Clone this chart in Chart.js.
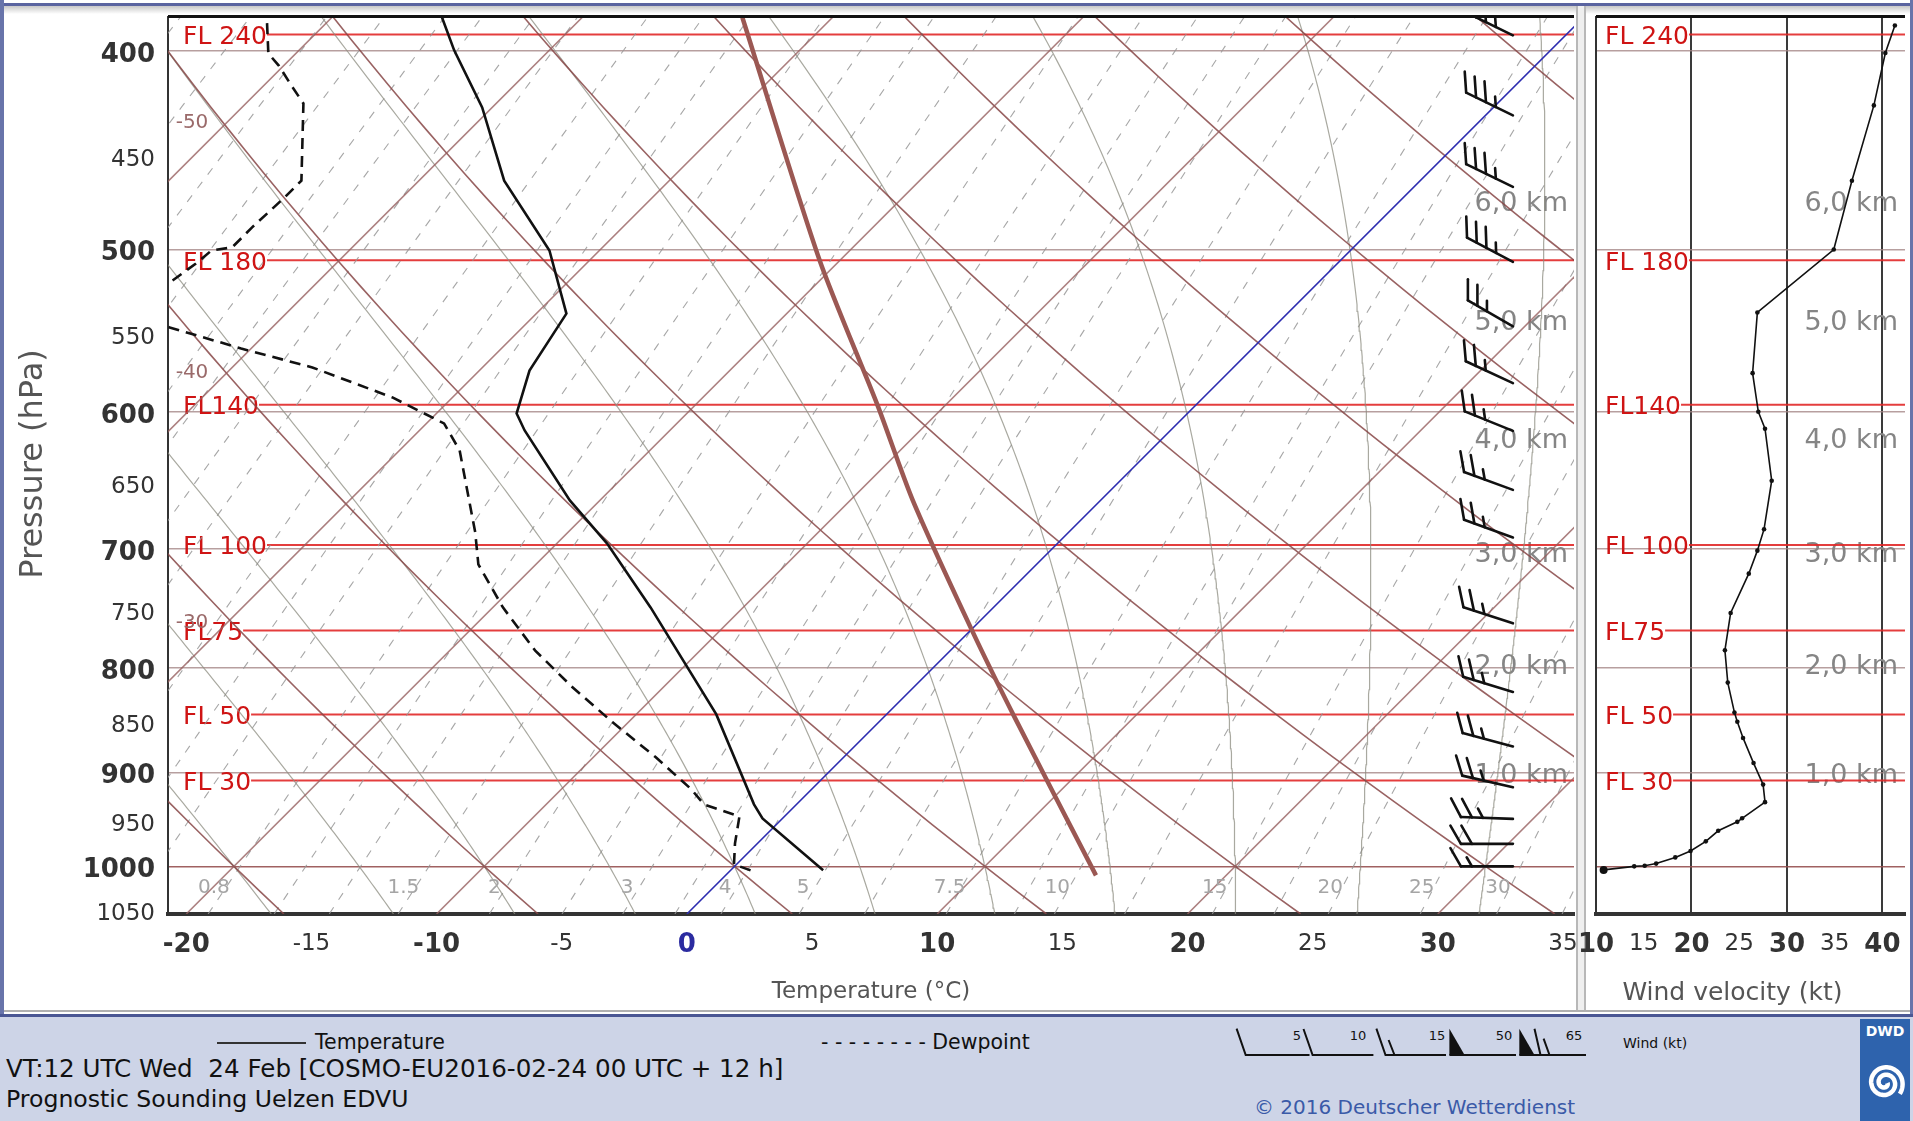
<!DOCTYPE html>
<html>
<head>
<meta charset="utf-8">
<title>Prognostic Sounding Uelzen EDVU</title>
<script src="https://cdn.jsdelivr.net/npm/chart.js@4.4.1/dist/chart.umd.min.js"></script>
<style>
  html, body { margin: 0; padding: 0; background: #fff; }
  #page { position: relative; width: 1913px; height: 1121px; overflow: hidden; background: #fff; font-family: "DejaVu Sans", sans-serif; }
  canvas { position: absolute; top: 0; z-index: 2; }
  #skewCanvas { left: 0; }
  #windCanvas { left: 1566px; }
  .bar { position: absolute; z-index: 1; }
  .top { z-index: 3; }
  #footer { position: absolute; left: 0; top: 1014px; width: 1913px; height: 107px; background: #cdd4e7; border-top: 3px solid #4a5794; box-sizing: border-box; z-index: 3; }
  .ftxt { position: absolute; white-space: pre; color: #111; line-height: 1; }
</style>
</head>
<body>
<div id="page">
  <canvas id="skewCanvas" width="1588" height="1012"></canvas>
  <canvas id="windCanvas" width="347" height="1012"></canvas>
  <div class="bar top" style="left:0;top:3px;width:1913px;height:3px;background:#5a64a0"></div>
  <div class="bar" style="left:0;top:6px;width:1913px;height:8px;background:linear-gradient(#c8c8c8,#fff)"></div>
  <div class="bar" style="left:1576px;top:6px;width:6px;height:1006px;border-left:2px solid #b8b8b8;border-right:2px solid #b8b8b8;background:#efefef"></div>
  <div class="bar" style="left:0;top:1010px;width:1913px;height:2px;background:#b0b0b0"></div>
  <div class="bar top" style="left:0;top:0;width:4px;height:1121px;background:#6874aa"></div>
  <div class="bar top" style="left:1910px;top:0;width:3px;height:1121px;background:#6874aa"></div>
  <div id="footer">
    <div class="bar" style="left:217px;top:25px;width:89px;height:2px;background:#333"></div>
    <div class="ftxt" style="left:315px;top:15px;font-size:20.5px">Temperature</div>
    <div class="ftxt" style="left:821px;top:15px;font-size:20.5px">- - - - - - - - Dewpoint</div>
    <div class="ftxt" style="left:6px;top:40px;font-size:24.6px">VT:12 UTC Wed  24 Feb [COSMO-EU2016-02-24 00 UTC + 12 h]</div>
    <div class="ftxt" style="left:6px;top:71px;font-size:23.6px">Prognostic Sounding Uelzen EDVU</div>
    <div class="ftxt" style="left:1254px;top:80px;font-size:20px;color:#3a5aa8">© 2016 Deutscher Wetterdienst</div>
    <div class="ftxt" style="left:1623px;top:19px;font-size:14px">Wind (kt)</div>
    <svg class="bar" style="left:1230px;top:5px" width="370" height="45" viewBox="0 0 370 45">
      <g stroke="#111" stroke-width="2" fill="none">
        <path d="M6.6 6.7 L15.7 33 L79.5 33"/>
        <path d="M73.5 7 L82.6 33 L143.4 33"/>
        <path d="M146.4 6.7 L155.5 33 L216 33 M158.6 18 L164.5 33"/>
        <path d="M219.4 33 L286 33"/>
        <path d="M289.3 33 L356 33 M304.5 6.7 L310.5 33 M313.6 16.7 L319.5 33"/>
      </g>
      <g fill="#111">
        <polygon points="219.4,6.7 219.4,33 234.6,33"/>
        <polygon points="289.3,6.7 289.3,33 304.5,33"/>
      </g>
      <g font-family="DejaVu Sans" font-size="13" text-anchor="middle" fill="#111">
        <text x="67" y="18">5</text><text x="128" y="18">10</text><text x="207" y="18">15</text>
        <text x="274" y="18">50</text><text x="344" y="18">65</text>
      </g>
    </svg>
    <svg class="bar" style="left:1860px;top:2px" width="50" height="105" viewBox="0 0 50 105">
      <rect x="0" y="0" width="50" height="105" fill="#2e63ad"/>
      <text x="25" y="17" font-family="DejaVu Sans" font-weight="bold" font-size="14" fill="#fff" text-anchor="middle">DWD</text>
      <path id="spiral" d="" stroke="#fff" stroke-width="4.5" fill="none"/>
    </svg>
  </div>
</div>
<script>
const yTicks = [400, 450, 500, 550, 600, 650, 700, 750, 800, 850, 900, 950, 1000, 1050];
const xTicks = [-20, -15, -10, -5, 0, 5, 10, 15, 20, 25, 30, 35];
const windTicks = [10, 15, 20, 25, 30, 35, 40];

// temperature profile (hPa, °C)
const tempP = [1004.5, 947.5, 932.7, 843.0, 747.5, 695.6, 662.8, 612.7, 601.1, 572.8, 537.3, 500.5, 462.7, 426.2, 399.7, 385.2];
const tempC = [3.7, -0.8, -1.7, -6.8, -13.7, -18.0, -21.2, -25.8, -26.8, -28.0, -28.8, -32.0, -36.6, -40.4, -43.8, -45.6];

// dewpoint profile (hPa, °C)
const dewP = [1004.5, 997.8, 974.5, 945.4, 932.7, 917.1, 884.7, 849.7, 816.9, 784.5, 747.5, 712.2, 687.1, 626.6, 607.9, 590.4, 570.8, 558.8, 545.7, 538.4, 519.4, 507.9, 500.5, 498.8, 487.7, 471.6, 462.7, 424.3, 415.8, 406.6, 401.1, 385.2];
const dewC = [0.8, -0.1, -0.9, -1.8, -3.7, -4.8, -7.5, -10.7, -13.7, -16.6, -19.6, -22.3, -23.7, -27.6, -29.3, -32.4, -36.8, -40.4, -44.1, -46.2, -45.9, -45.6, -45.5, -44.8, -44.8, -44.7, -44.7, -47.7, -48.9, -50.2, -51.1, -52.6];

// thick brown reference curve (hPa, °C)
const parcelP = [1010.2, 846.8, 766.2, 662.8, 595.7, 506.2, 385.2];
const parcelC = [14.8, 5.3, 0.0, -7.5, -12.7, -20.8, -33.6];

// wind speed profile (hPa, kt)
const windP = [1004, 1000, 999.3, 996.9, 990, 982.9, 972.3, 960.8, 951.2, 947.4, 930.4, 912.2, 890.4, 865.6, 850, 841.3, 813.4, 784.4, 752.2, 719.7, 701.3, 684.6, 648.3, 611.5, 600, 574.5, 536.6, 500, 462.8, 425.2, 400.9, 388.7];
const windKt = [10.8, 14.0, 15.1, 16.3, 18.3, 19.9, 21.5, 22.8, 24.8, 25.3, 27.7, 27.5, 26.5, 25.4, 24.8, 24.5, 23.8, 23.5, 24.1, 26.0, 26.9, 27.6, 28.4, 27.7, 27.0, 26.4, 26.9, 34.9, 36.8, 39.1, 40.3, 41.3];

// wind barbs (hPa, direction °, kt)
const barbP = [393, 430, 466, 507, 545, 581, 613, 655, 691, 761, 822, 874, 915, 948, 975, 1000];
const barbDir = [296, 296, 296, 298, 300, 295, 292, 290, 290, 288, 287, 285, 283, 272, 270, 270];
const barbKt = [35, 35, 35, 35, 25, 25, 25, 25, 25, 25, 25, 25, 25, 25, 20, 15];

// flight levels and heights
const flNames = ['FL 240', 'FL 180', 'FL140', 'FL 100', 'FL75', 'FL 50', 'FL 30'];
const flP = [392.7, 506.0, 595.2, 696.8, 767.1, 843.1, 908.1];
const kmNames = ['1,0 km', '2,0 km', '3,0 km', '4,0 km', '5,0 km', '6,0 km'];
const kmP = [898.7, 795.0, 701.1, 616.4, 540.2, 472.2];
const isobars = [400, 500, 600, 700, 800, 900, 1000];

// diagram background lines
const isotherms = [-60, -50, -40, -30, -20, -10, 10, 20, 30, 40];
const isothermLabels = [-50, -40, -30];
const dryAdiabats = [-30, -20, -10, 0, 10, 20, 30, 40, 50, 60, 70, 80, 90];
const moistAdiabats = [-20, -15, -10, -5, 0, 5, 10, 15, 20, 25, 30, 35];
const mixRatios = [0.03, 0.05, 0.07, 0.1, 0.13, 0.17, 0.2, 0.25, 0.3, 0.4, 0.5, 0.6, 0.8, 1, 1.2, 1.5, 2, 2.5, 3, 3.5, 4, 5, 6, 7.5, 9, 10, 12, 15, 17.5, 20, 25, 30, 35];
const mixLabels = [0.8, 1.5, 2, 3, 4, 5, 7.5, 10, 15, 20, 25, 30];

// ---- axis geometry ----
const PBOT = 1055, PTOP = 385;
const TMIN = -20.73, TMAX = 35.44;
const KTMIN = 10, KTMAX = 42.36;
const PLOT_W = 1406, PLOT_H = 897;
const SKEW = (PLOT_H / Math.log(PBOT / PTOP)) / (PLOT_W / (TMAX - TMIN));
const BARB_X = 33.0;
const MIX_LABEL_P = 1024;
const FONT = '"DejaVu Sans", sans-serif';

const skewX = (t, p) => t + SKEW * Math.log(PBOT / p);
const logSpaced = n => {
  const a = [];
  for (let i = 0; i <= n; i++) a.push(PBOT * Math.pow(PTOP / PBOT, i / n));
  return a;
};

function mixT(w, p) {
  const e = (w / 1000) * p / (0.622 + w / 1000);
  const l = Math.log(e / 6.112);
  return 243.5 * l / (17.67 - l);
}

function dTdp(p, T) {
  const es = 6.112 * Math.exp(17.67 * (T - 273.15) / (T - 29.65));
  const rs = 0.622 * es / (p - es);
  const Rd = 287.04, cp = 1005.7, L = 2.501e6;
  return (Rd * T + L * rs) / (p * (cp + L * L * rs * 0.622 / (Rd * T * T)));
}

function moistCurve(thw) {
  const step = p0 => {
    const out = [];
    let p = 1000, T = thw + 273.15;
    const dir = p0 < 1000 ? -4 : 4;
    out.push({ p, T });
    while ((dir < 0 && p > p0) || (dir > 0 && p < p0)) {
      const k1 = dTdp(p, T);
      const k2 = dTdp(p + dir / 2, T + k1 * dir / 2);
      T += k2 * dir; p += dir;
      out.push({ p, T });
    }
    return out;
  };
  const up = step(PTOP - 5), down = step(PBOT + 5);
  return down.reverse().concat(up.slice(1)).map(o => ({ x: skewX(o.T - 273.15, o.p), y: o.p }));
}

function lineSet(data, color, width, dash, extra) {
  return Object.assign({ data, borderColor: color, borderWidth: width, borderDash: dash || [],
    pointRadius: 0, tension: 0, fill: false, clip: 0 }, extra || {});
}

const pts = (ps, ts) => ps.map((p, i) => ({ x: skewX(ts[i], p), y: p }));

const datasets = [];
datasets.push(lineSet(pts(tempP, tempC), '#111', 2.6));
datasets.push(lineSet(pts(dewP, dewC), '#111', 2.6, [11, 7]));
datasets.push(lineSet(pts(parcelP, parcelC), '#9b5853', 4.5, null, { tension: 0.25 }));
datasets.push(lineSet([{ x: skewX(0, PBOT), y: PBOT }, { x: skewX(0, PTOP), y: PTOP }], '#2d2db0', 1.6));
isotherms.forEach(t => datasets.push(lineSet([{ x: skewX(t, PBOT), y: PBOT }, { x: skewX(t, PTOP), y: PTOP }], 'rgba(150,95,95,0.8)', 1.6)));
dryAdiabats.forEach(th => datasets.push(lineSet(logSpaced(40).map(p => ({ x: skewX((th + 273.15) * Math.pow(p / 1000, 0.2857) - 273.15, p), y: p })), 'rgba(135,70,70,0.85)', 1.6)));
moistAdiabats.forEach(thw => datasets.push(lineSet(moistCurve(thw), 'rgba(140,140,128,0.75)', 1.2)));
mixRatios.forEach(w => datasets.push(lineSet(logSpaced(30).map(p => ({ x: skewX(mixT(w, p), p), y: p })), 'rgba(150,150,150,0.85)', 1.1, [8, 9])));

Chart.defaults.font.family = FONT;
Chart.defaults.color = '#333';

const tickFont = div => ctx => {
  const v = ctx.tick ? ctx.tick.value : 0;
  const major = v % div === 0 && v !== 1050;
  return { family: FONT, size: major ? 26 : 23, weight: major ? 'bold' : 'normal' };
};
const isobarColor = ctx => {
  const v = ctx.tick ? ctx.tick.value : 0;
  if (v === 1000) return 'rgba(150,80,80,0.9)';
  if (isobars.includes(v)) return 'rgba(165,135,135,0.8)';
  return 'rgba(0,0,0,0)';
};
// keep the plot box fixed: tick labels must not push the chart area around
const noPad = s => { s.paddingTop = 0; s.paddingBottom = 0; s.paddingLeft = 0; s.paddingRight = 0; };

function drawLevels(ctx, a, y, flPad, kmPad) {
  ctx.save();
  ctx.font = '27px ' + FONT;
  ctx.fillStyle = '#858585';
  ctx.textAlign = 'right';
  ctx.textBaseline = 'middle';
  kmP.forEach((p, i) => ctx.fillText(kmNames[i], a.right - kmPad, y.getPixelForValue(p) + 5));
  ctx.font = '25px ' + FONT;
  ctx.textAlign = 'left';
  flP.forEach((p, i) => {
    const yy = y.getPixelForValue(p);
    const x0 = a.left + flPad;
    const w = ctx.measureText(flNames[i]).width;
    ctx.fillStyle = '#cf1414';
    ctx.fillText(flNames[i], x0, yy + 3);
    ctx.strokeStyle = 'rgba(225,40,40,0.9)';
    ctx.lineWidth = 2;
    ctx.beginPath(); ctx.moveTo(x0 + w, yy); ctx.lineTo(a.right, yy); ctx.stroke();
  });
  ctx.restore();
}

function drawBarb(ctx, x0, y0, dir, kt) {
  const r = dir * Math.PI / 180;
  const ux = Math.sin(r), uy = -Math.cos(r);
  const L = 52, gap = 11, len = 21;
  const tx = x0 + ux * L, ty = y0 + uy * L;
  ctx.beginPath(); ctx.moveTo(x0, y0); ctx.lineTo(tx, ty); ctx.stroke();
  const ang = Math.atan2(uy, ux) + Math.PI / 3;
  const bx = Math.cos(ang), by = Math.sin(ang);
  let rest = Math.round(kt / 5) * 5, pos = 0;
  while (rest >= 10) {
    const sx = tx - ux * pos, sy = ty - uy * pos;
    ctx.beginPath(); ctx.moveTo(sx, sy); ctx.lineTo(sx + bx * len, sy + by * len); ctx.stroke();
    pos += gap; rest -= 10;
  }
  if (rest >= 5) {
    if (pos === 0) pos = gap;
    const sx = tx - ux * pos, sy = ty - uy * pos;
    ctx.beginPath(); ctx.moveTo(sx, sy); ctx.lineTo(sx + bx * len / 2, sy + by * len / 2); ctx.stroke();
  }
}

const skewOverlay = {
  id: 'skewOverlay',
  beforeDatasetsDraw(chart) {
    const { ctx, chartArea: a, scales: { y } } = chart;
    drawLevels(ctx, a, y, 15, 6);
  },
  afterDatasetsDraw(chart) {
    const { ctx, chartArea: a, scales: { x, y } } = chart;
    ctx.save();
    // mixing ratio labels, set just left of their line
    ctx.font = '20px ' + FONT;
    ctx.fillStyle = '#a5a5a5';
    ctx.textAlign = 'center';
    ctx.textBaseline = 'middle';
    mixLabels.forEach(w => {
      ctx.fillText(String(w), x.getPixelForValue(skewX(mixT(w, MIX_LABEL_P), MIX_LABEL_P)) - 12, y.getPixelForValue(MIX_LABEL_P));
    });
    // isotherm labels near the left edge
    ctx.fillStyle = '#9a6a6a';
    isothermLabels.forEach(t => {
      const pEdge = PBOT / Math.exp((TMIN - t) / SKEW);
      ctx.fillText(String(t), a.left + 24, y.getPixelForValue(pEdge) - 59);
    });
    // wind barbs
    ctx.beginPath(); ctx.rect(a.left, a.top, a.width, a.height); ctx.clip();
    ctx.strokeStyle = '#111';
    ctx.lineWidth = 2.6;
    ctx.lineCap = 'round';
    const bx = x.getPixelForValue(BARB_X);
    barbP.forEach((p, i) => drawBarb(ctx, bx, y.getPixelForValue(p), barbDir[i], barbKt[i]));
    ctx.restore();
  },
  afterDraw(chart) {
    const { ctx, chartArea: a } = chart;
    ctx.save();
    ctx.fillStyle = '#111';
    ctx.fillRect(a.left, a.top - 2, a.width, 3);
    ctx.fillStyle = '#555';
    ctx.font = '23px ' + FONT;
    ctx.textAlign = 'center';
    ctx.textBaseline = 'middle';
    ctx.fillText('Temperature (°C)', (a.left + a.right) / 2, 992);
    ctx.translate(34, 464);
    ctx.rotate(-Math.PI / 2);
    ctx.font = '32px ' + FONT;
    ctx.fillText('Pressure (hPa)', 0, 0);
    ctx.restore();
  }
};

new Chart(document.getElementById('skewCanvas'), {
  type: 'line',
  data: { datasets },
  options: {
    responsive: false,
    devicePixelRatio: 1,
    animation: false,
    events: [],
    layout: { padding: { top: 17, right: 14, left: 0, bottom: 0 } },
    plugins: { legend: { display: false }, tooltip: { enabled: false } },
    scales: {
      x: {
        type: 'linear', min: TMIN, max: TMAX,
        afterBuildTicks: s => { s.ticks = xTicks.map(v => ({ value: v })); },
        afterFit: s => { s.height = 98; noPad(s); },
        grid: { display: false, drawTicks: false },
        border: { display: true, color: '#333', width: 4 },
        ticks: {
          autoSkip: false, maxRotation: 0, padding: 16,
          font: tickFont(10),
          color: ctx => (ctx.tick && ctx.tick.value === 0 ? '#2b2ba0' : '#333'),
          callback: v => String(v)
        }
      },
      y: {
        type: 'logarithmic', reverse: true, min: PTOP, max: PBOT,
        afterBuildTicks: s => { s.ticks = yTicks.map(v => ({ value: v })); },
        afterFit: s => { s.width = 168; noPad(s); },
        grid: { drawTicks: false, color: isobarColor, lineWidth: 1.6 },
        border: { display: true, color: '#333', width: 2 },
        ticks: { autoSkip: false, padding: 13, labelOffset: 4, font: tickFont(100), color: '#333', callback: v => String(v) }
      }
    }
  },
  plugins: [skewOverlay]
});

const windOverlay = {
  id: 'windOverlay',
  beforeDatasetsDraw(chart) {
    const { ctx, chartArea: a, scales: { y } } = chart;
    drawLevels(ctx, a, y, 9, 7);
  },
  afterDraw(chart) {
    const { ctx, chartArea: a } = chart;
    ctx.save();
    ctx.fillStyle = '#111';
    ctx.fillRect(a.left, a.top - 2, a.width, 3);
    ctx.fillStyle = '#555';
    ctx.font = '25px ' + FONT;
    ctx.textAlign = 'center';
    ctx.textBaseline = 'middle';
    ctx.fillText('Wind velocity (kt)', (a.left + a.right) / 2 - 18, 993);
    ctx.restore();
  }
};

new Chart(document.getElementById('windCanvas'), {
  type: 'line',
  data: {
    datasets: [{
      data: windP.map((p, i) => ({ x: windKt[i], y: p })),
      borderColor: '#111', borderWidth: 1.6, tension: 0, fill: false, clip: 0,
      pointRadius: ctx => (ctx.dataIndex === 0 ? 4 : 2.3),
      pointBackgroundColor: '#111', pointBorderWidth: 0
    }]
  },
  options: {
    responsive: false,
    devicePixelRatio: 1,
    animation: false,
    events: [],
    layout: { padding: { top: 17, right: 8, left: 0, bottom: 0 } },
    plugins: { legend: { display: false }, tooltip: { enabled: false } },
    scales: {
      x: {
        type: 'linear', min: KTMIN, max: KTMAX,
        afterBuildTicks: s => { s.ticks = windTicks.map(v => ({ value: v })); },
        afterFit: s => { s.height = 98; noPad(s); },
        grid: {
          drawTicks: false, lineWidth: 2,
          color: ctx => (ctx.tick && [20, 30, 40].includes(ctx.tick.value) ? '#3a3a3a' : 'rgba(0,0,0,0)')
        },
        border: { display: true, color: '#333', width: 4 },
        ticks: { autoSkip: false, maxRotation: 0, padding: 16, font: tickFont(10), color: '#333', callback: v => String(v) }
      },
      y: {
        type: 'logarithmic', reverse: true, min: PTOP, max: PBOT,
        afterBuildTicks: s => { s.ticks = yTicks.map(v => ({ value: v })); },
        afterFit: s => { s.width = 30; noPad(s); },
        grid: { drawTicks: false, color: isobarColor, lineWidth: 1.6 },
        border: { display: true, color: '#333', width: 2 },
        ticks: { display: false }
      }
    }
  },
  plugins: [windOverlay]
});

// DWD spiral mark
(function () {
  let d = '';
  for (let i = 0; i <= 140; i++) {
    const t = i / 140 * Math.PI * 4.2;
    const r = 2.5 + t * 1.2;
    d += (i ? 'L' : 'M') + (25 + r * Math.cos(t)).toFixed(1) + ' ' + (64 + r * Math.sin(t)).toFixed(1);
  }
  document.getElementById('spiral').setAttribute('d', d);
})();
</script>
</body>
</html>
